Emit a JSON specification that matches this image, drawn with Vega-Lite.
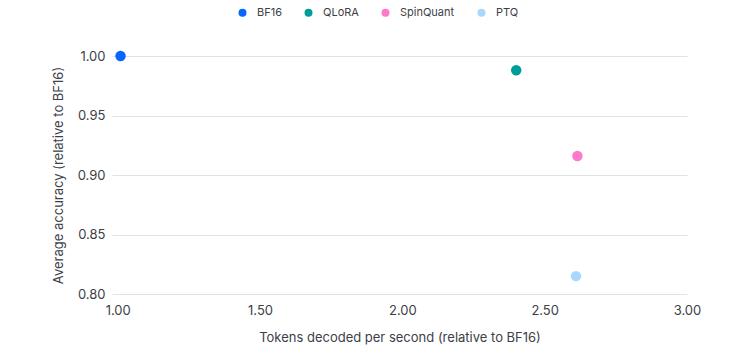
{
  "$schema": "https://vega.github.io/schema/vega-lite/v6.json",
  "width": 575,
  "height": 238,
  "autosize": {"type": "none"},
  "padding": {"left": 112, "top": 56, "right": 66, "bottom": 69},
  "background": "white",
  "config": {
    "view": {"stroke": null},
    "font": "Inter",
    "axis": {"labelFont": "Inter", "titleFont": "Inter", "labelColor": "#3c4148", "titleColor": "#3c4148", "labelFontSize": 13, "titleFontSize": 13, "titleFontWeight": "normal"},
    "legend": {"labelFont": "Inter", "labelFontSize": 11, "labelColor": "#3c4148"}
  },
  "data": {
    "values": [
      {"method": "BF16", "speed": 1.01, "accuracy": 1.0},
      {"method": "QLoRA", "speed": 2.40, "accuracy": 0.988},
      {"method": "SpinQuant", "speed": 2.615, "accuracy": 0.916},
      {"method": "PTQ", "speed": 2.61, "accuracy": 0.815}
    ]
  },
  "mark": {"type": "circle", "size": 110, "opacity": 1},
  "encoding": {
    "x": {
      "field": "speed", "type": "quantitative",
      "title": "Tokens decoded per second (relative to BF16)",
      "scale": {"domain": [0.98, 3.0], "nice": false, "zero": false},
      "axis": {"values": [1, 1.5, 2, 2.5, 3], "format": ".2f", "grid": false, "domain": false, "ticks": false, "labelPadding": 10, "titlePadding": 14, "labelFlush": false, "labelBound": false}
    },
    "y": {
      "field": "accuracy", "type": "quantitative",
      "title": "Average accuracy (relative to BF16)",
      "scale": {"domain": [0.8, 1.0], "nice": false, "zero": false},
      "axis": {"values": [0.8, 0.85, 0.9, 0.95, 1.0], "format": ".2f", "grid": true, "gridColor": "#dfe3e8", "gridWidth": 1, "domain": false, "ticks": false, "labelPadding": 7, "titlePadding": 12, "labelFlush": false}
    },
    "color": {
      "field": "method", "type": "nominal",
      "scale": {"domain": ["BF16", "QLoRA", "SpinQuant", "PTQ"], "range": ["#0866FF", "#009C98", "#FF78CB", "#A8D7FF"]},
      "legend": {"title": null, "orient": "none", "direction": "horizontal", "legendX": 125, "legendY": -49, "symbolType": "circle", "symbolSize": 64, "labelOffset": 9, "columnPadding": 21, "symbolStrokeWidth": 0}
    }
  }
}
